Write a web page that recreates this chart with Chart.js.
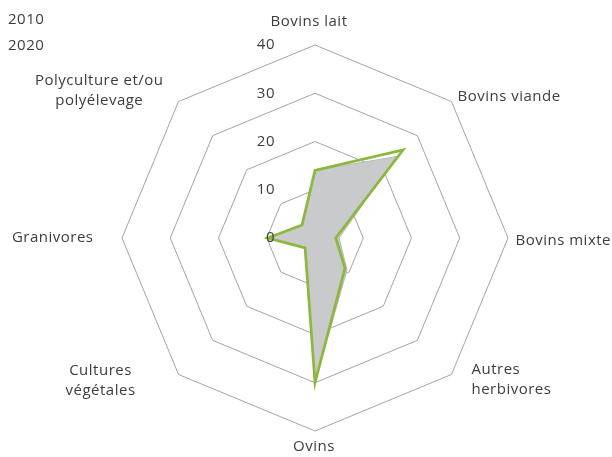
<!DOCTYPE html>
<html lang="fr">
<head>
  <meta charset="UTF-8" />
  <title>Orientations - radar</title>
  <script src="https://cdn.jsdelivr.net/npm/chart.js"></script>
  <style>
    body {
      margin: 0;
      background: #fff;
    }
    #wrap {
      width: 612px;
      height: 457px;
    }
  </style>
</head>
<body>
  <div id="wrap">
    <canvas id="radarChart" width="612" height="457"></canvas>
  </div>

  <script>
    // data
    const categories = [
      'Bovins lait',
      'Bovins viande',
      'Bovins mixte',
      ['Autres', 'herbivores'],
      'Ovins',
      ['Cultures', 'végétales'],
      'Granivores',
      ['Polyculture et/ou', 'polyélevage']
    ];
    const values2010 = [14, 23.9, 5.0, 9.4, 29.8, 2.9, 9.8, 3.8];
    const values2020 = [14, 25.8, 4.3, 8.8, 30, 2.9, 9.8, 3.8];
    const seriesNames = ['2010', '2020'];
    const tickValues = [0, 10, 20, 30, 40];

    const FONT = "15px 'Open Sans', sans-serif";
    const TEXT = '#3d3d3d';

    // where each category label sits relative to its outer vertex
    // mode: 'left' = lines left aligned, 'center' = centred, 'right' = block right edge, lines centred
    const labelPlace = [
      [-6, -23, 'center'],
      [6, -5, 'left'],
      [7.5, 2.5, 'left'],
      [20, 5, 'left'],
      [-1, 16, 'center'],
      [-43, 6, 'right'],
      [-28.5, 0, 'right'],
      [-15, -11, 'right']
    ];

    const textPlugin = {
      id: 'textPlugin',
      afterDraw(chart) {
        const ctx = chart.ctx;
        const scale = chart.scales.r;
        const R = scale.drawingArea;
        ctx.save();
        ctx.font = FONT;
        ctx.letterSpacing = '0.5px';
        ctx.fillStyle = TEXT;
        ctx.textBaseline = 'middle';

        // category labels
        categories.forEach((lab, i) => {
          const lines = Array.isArray(lab) ? lab : [lab];
          const v = scale.getPointPosition(i, R);
          const [dx, dy, mode] = labelPlace[i];
          const lh = 20;
          const y0 = v.y + dy - (lines.length - 1) * lh / 2;
          const maxW = Math.max(...lines.map(l => ctx.measureText(l).width));
          lines.forEach((l, k) => {
            const y = y0 + k * lh;
            if (mode === 'left') {
              ctx.textAlign = 'left';
              ctx.fillText(l, v.x + dx, y);
            } else if (mode === 'center') {
              ctx.textAlign = 'center';
              ctx.fillText(l, v.x + dx, y);
            } else {
              ctx.textAlign = 'center';
              ctx.fillText(l, v.x + dx - maxW / 2, y);
            }
          });
        });

        // tick labels, left of the vertical axis
        ctx.textAlign = 'right';
        tickValues.forEach(t => {
          const d = scale.getDistanceFromCenterForValue(t);
          ctx.fillText(String(t), scale.xCenter - 40, scale.yCenter - d);
        });

        // legend (text only)
        ctx.textAlign = 'left';
        seriesNames.forEach((s, i) => {
          ctx.fillText(s, 8, 20 + i * 26);
        });
        ctx.restore();
      }
    };

    const ctx = document.getElementById('radarChart').getContext('2d');
    new Chart(ctx, {
      type: 'radar',
      data: {
        labels: categories,
        datasets: [
          {
            label: seriesNames[0],
            data: values2010,
            backgroundColor: '#c9cacc',
            borderColor: '#b9babc',
            borderWidth: 1,
            fill: true,
            pointRadius: 0,
            order: 2
          },
          {
            label: seriesNames[1],
            data: values2020,
            backgroundColor: 'rgba(0,0,0,0)',
            borderColor: '#8bb83d',
            borderWidth: 2.75,
            fill: false,
            pointRadius: 0,
            order: 1
          }
        ]
      },
      options: {
        responsive: false,
        animation: false,
        devicePixelRatio: 1,
        layout: {
          padding: { left: 122, right: 104, top: 45, bottom: 25 }
        },
        elements: {
          line: { tension: 0, borderJoinStyle: 'miter' }
        },
        plugins: {
          legend: { display: false },
          tooltip: { enabled: false }
        },
        scales: {
          r: {
            min: 0,
            max: 40,
            ticks: { stepSize: 10, display: false },
            grid: { color: '#a3a3a3', lineWidth: 1 },
            angleLines: { display: false },
            pointLabels: { display: false }
          }
        }
      },
      plugins: [textPlugin]
    });
  </script>
</body>
</html>
